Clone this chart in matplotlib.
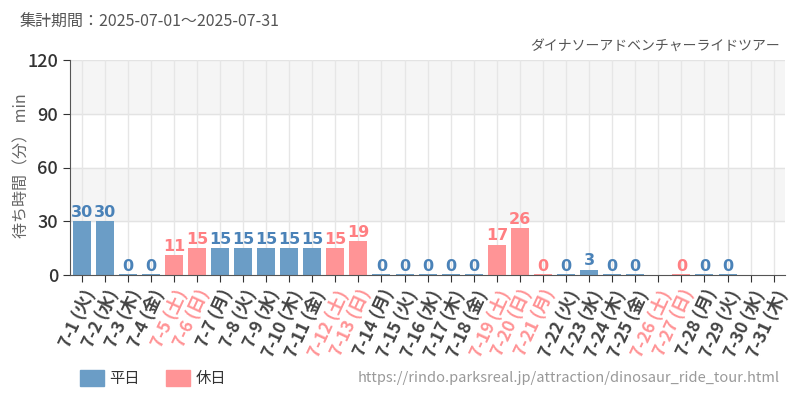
import matplotlib.pyplot as plt
import numpy as np

plt.rcParams['font.family'] = ['Noto Sans CJK JP', 'DejaVu Sans']

days = [f"7-{d}" for d in range(1, 32)]
weekdays = ["火", "水", "木", "金", "土", "日", "月"]
dow = [weekdays[i % 7] for i in range(31)]
# None = no data
waits = [30, 30, 0, 0, 11, 15, 15, 15, 15, 15, 15, 15, 19, 0, 0, 0, 0, 0,
         17, 26, 0, 0, 3, 0, 0, None, 0, 0, 0, None, None]
holidays = [5, 6, 12, 13, 19, 20, 21, 26, 27]

BLUE = '#6b9dc6'
PINK = '#ff9496'
BLUE_TXT = '#4a82b8'
PINK_TXT = '#ff7f82'

fig = plt.figure(figsize=(8, 4), dpi=100)
ax = fig.add_axes([0.0875, 0.3125, 0.894, 0.5375])

x = np.arange(len(days))
ax.set_xlim(-0.5, len(days) - 0.5)
ax.set_ylim(0, 120)

# alternating bands
for lo in (30, 90):
    ax.axhspan(lo, lo + 30, color='#f5f5f5', zorder=0)
for yv in (30, 60, 90, 120):
    ax.axhline(yv, color='#e3e3e3', lw=1, zorder=0.5)
for xv in x:
    ax.axvline(xv, color='#e6e6e6', lw=1, zorder=0.5)

for i, v in enumerate(waits):
    if v is None:
        continue
    hol = (i + 1) in holidays
    c = PINK if hol else BLUE
    tc = PINK_TXT if hol else BLUE_TXT
    ax.bar(x[i], max(v, 0.7), width=0.78, color=c, zorder=2)
    ax.text(x[i], v + 0.8, str(v), ha='center', va='bottom', color=tc,
            fontsize=11.5, fontweight='bold', family=['DejaVu Sans'], zorder=3)

ax.set_xticks(x)
labels = ax.set_xticklabels([f"{d} ({w})" for d, w in zip(days, dow)],
                            rotation=65, ha='right', rotation_mode='anchor',
                            fontsize=12.5, fontweight='bold', color='#444444')
for i, lab in enumerate(labels):
    if (i + 1) in holidays:
        lab.set_color(PINK)

ax.set_yticks([0, 30, 60, 90, 120])
ax.tick_params(axis='y', labelsize=13, colors='#333333', length=5)
for lab in ax.get_yticklabels():
    lab.set_fontweight('medium')
ax.tick_params(axis='x', length=5, color='#333333')

for s in ('top', 'right'):
    ax.spines[s].set_visible(False)
ax.spines['left'].set_color('#555555')
ax.spines['bottom'].set_color('#555555')

fig.text(0.027, 0.585, "待ち時間（分） min", fontsize=11.5, color='#666666',
         rotation=90, ha='center', va='center')

fig.text(0.025, 0.945, "集計期間：2025-07-01～2025-07-31", fontsize=11.5, color='#555555', va='center')
fig.text(0.975, 0.882, "ダイナソーアドベンチャーライドツアー", fontsize=10, color='#555555',
         ha='right', va='center')

# legend
fig.patches.append(plt.Rectangle((0.1, 0.035), 0.03, 0.04, color=BLUE, transform=fig.transFigure))
fig.text(0.137, 0.055, "平日", fontsize=11, color='#333333', va='center')
fig.patches.append(plt.Rectangle((0.2075, 0.035), 0.03, 0.04, color=PINK, transform=fig.transFigure))
fig.text(0.244, 0.055, "休日", fontsize=11, color='#333333', va='center')
fig.text(0.975, 0.055, "https://rindo.parksreal.jp/attraction/dinosaur_ride_tour.html",
         fontsize=10.5, color='#999999', ha='right', va='center')

fig.savefig('out.png', dpi=100)
